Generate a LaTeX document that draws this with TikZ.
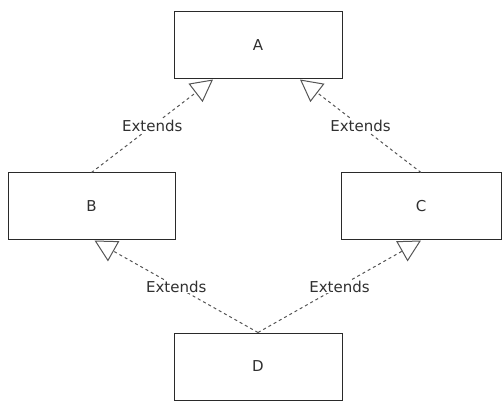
\documentclass[tikz,border=0pt]{standalone}
\usepackage{fontspec}
\setmainfont{DejaVu Sans}
\usetikzlibrary{arrows.meta}
\definecolor{boxline}{HTML}{2A2A2A}
\definecolor{dashline}{HTML}{555555}
\definecolor{txt}{HTML}{303030}
\tikzset{
  classbox/.style={draw=boxline, line width=1pt, fill=white, minimum height=67pt, inner sep=0pt, font=\fontsize{15}{18}\selectfont, text=txt},
  extends/.style={draw=dashline, line width=1pt, dash pattern=on 3pt off 3pt,
     -{Triangle[open, length=22pt, width=23pt, line width=1pt]}},
  extlabel/.style={fill=white, inner sep=1pt, font=\fontsize{15}{18}\selectfont, text=txt, pos=0.5}
}
\begin{document}
\begin{tikzpicture}[x=1pt, y=-1pt]
\useasboundingbox (0,0) rectangle (503,403);
\node[classbox, minimum width=168pt] (A) at (258,45.5) {A};
\node[classbox, minimum width=167pt] (B) at (91.5,206.5) {B};
\node[classbox, minimum width=160pt] (C) at (421,206.5) {C};
\node[classbox, minimum width=168pt] (D) at (258,366.5) {D};
\draw[extends] (B.north) -- node[extlabel] {Extends} ([xshift=-45pt]A.south);
\draw[extends] (C.north) -- node[extlabel] {Extends} ([xshift=42pt]A.south);
\draw[extends] (D.north) -- node[extlabel] {Extends} ([xshift=3pt]B.south);
\draw[extends] (D.north) -- node[extlabel] {Extends} (C.south);
\end{tikzpicture}
\end{document}
